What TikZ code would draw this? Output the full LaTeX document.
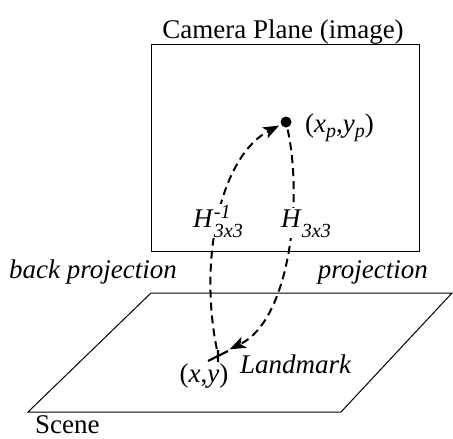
\documentclass[tikz,border=0pt]{standalone}
\usepackage{fontspec}
\setmainfont{Liberation Serif}
\usetikzlibrary{arrows.meta}

\newcommand{\lowtext}[2][10pt]{\raisebox{-#1}{\fontsize{20}{20}\selectfont\itshape #2}}
\newcommand{\hightext}[1]{\raisebox{9pt}{\fontsize{20}{20}\selectfont\itshape #1}}

\begin{document}
\begin{tikzpicture}[x=1pt, y=-1pt, font=\fontsize{27}{32}\selectfont,
    plane/.style={line width=1pt},
    ray/.style={line width=2pt, dash pattern=on 8pt off 5pt, -{Stealth[length=16pt,width=12pt,inset=4pt]}},
    lbl/.style={inner sep=0pt},
    hlbl/.style={fill=white, inner sep=1pt}]

\useasboundingbox (0,0) rectangle (453,439);

% 1. Camera plane (top)
\draw[plane] (151,44) rectangle (419,251);
\node[lbl, anchor=base] (camlbl) at (283,38) {Camera Plane (image)};
\node[circle, fill, inner sep=0pt, minimum size=11pt] (pix) at (286,122) {};
\node[lbl, anchor=base west] (pixlbl) at (305,132) {(\textit{x}\lowtext[5pt]{p},\textit{y}\lowtext[5pt]{p})};

% 2. Scene plane (bottom)
\draw[plane] (151,293) -- (452,293) -- (341,412) -- (28,412) -- cycle;
\node[lbl, anchor=base west] (scenelbl) at (35,433) {Scene};
\coordinate (lm) at (218,355);
\draw[line width=2.2pt] (lm) +(-10,6) -- +(10,-4) (lm) +(0,-5) -- +(0,7);
\node[lbl, anchor=base] (lmxy) at (204,382) {(\textit{x},\textit{y})};
\node[lbl, anchor=base west] (lmlbl) at (240,373) {\textit{Landmark}};

% 3. Mappings between the planes
\draw[ray, shorten <=6pt, shorten >=2pt] (lm) .. controls +(-20,-100) and +(-64,33) .. (pix);
\draw[ray, shorten <=2pt, shorten >=13pt] (pix) .. controls +(17,78) and +(72,-35) .. (lm);
\node[hlbl, anchor=base west] (hinv) at (192,227) {\textit{H}\rlap{\hightext{-1}}\lowtext{3x3}};
\node[hlbl, anchor=base west] (hfwd) at (280,227) {\textit{H}\lowtext{3x3}};
\node[lbl, anchor=base west] (backlbl) at (9,278) {\textit{back projection}};
\node[lbl, anchor=base east] (projlbl) at (428,278) {\textit{projection}};

\end{tikzpicture}
\end{document}
